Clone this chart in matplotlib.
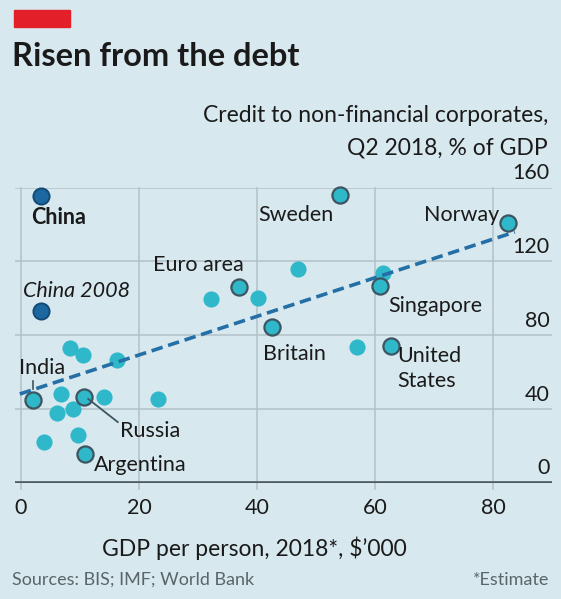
import numpy as np
import matplotlib.pyplot as plt
from matplotlib.patches import Rectangle

# ===================================================
# DATA
# ===================================================

# labelled countries: GDP per person ($'000), credit % of GDP
named = ["India", "Russia", "Argentina", "Euro area", "Britain",
         "Sweden", "Norway", "Singapore", "United States"]
named_gdp = [2.0, 10.7, 10.8, 37.0, 42.5, 54.0, 82.5, 60.8, 62.7]
named_credit = [45.0, 46.6, 15.7, 106.0, 84.5, 156.0, 140.8, 106.7, 74.2]

china_gdp = [3.4, 3.4]
china_credit = [155.4, 93.0]

# other countries (unlabelled)
other_gdp = [8.3, 10.5, 16.3, 6.8, 14.1, 23.2, 6.1, 8.8, 3.9, 9.7,
             32.2, 40.2, 46.9, 61.4, 56.9]
other_credit = [73.0, 69.3, 66.6, 48.2, 46.6, 45.5, 37.9, 40.0, 22.0, 25.8,
                99.6, 100.0, 115.9, 113.7, 73.6]

trend_x = [-0.2, 83.7]
trend_y = [48.2, 135.9]

x_ticks = [0, 20, 40, 60, 80]
y_ticks = [0, 40, 80, 120, 160]

# ===================================================
# STYLE
# ===================================================

plt.rcParams["font.family"] = ["Lato", "DejaVu Sans"]

bg = "#d7e8ef"
cyan = "#2fb7ca"
dark_blue = "#1b67a0"
edge = "#3d5560"
text_c = "#1a1a1a"
grid_c = "#b3c2c8"

fig = plt.figure(figsize=(5.61, 5.99), dpi=100)
fig.patch.set_facecolor(bg)

ax = fig.add_axes([0.0269, 1 - 483 / 599, 0.957, 295.5 / 599])
ax.set_facecolor(bg)
ax.set_xlim(-1, 90)
ax.set_ylim(0, 160)

for s in ax.spines.values():
    s.set_visible(False)
ax.set_xticks([])
ax.set_yticks([])

# grid
for yv in y_ticks[1:]:
    ax.axhline(yv, color=grid_c, lw=1.1, zorder=1)
for xv in x_ticks:
    ax.plot([xv, xv], [-3, 160], color=grid_c, lw=1.1, zorder=1,
            clip_on=False)
ax.axhline(0, color="#4c5a60", lw=2.6, zorder=2)

# tick labels
for xv in x_ticks:
    ax.text(xv, -8, str(xv), ha="center", va="top", fontsize=15.5,
            color=text_c)
for yv in y_ticks:
    ax.text(89.6, yv + 2.5, str(yv), ha="right", va="bottom",
            fontsize=15.5, color=text_c)

# ===================================================
# POINTS
# ===================================================

ax.scatter(other_gdp, other_credit, s=135, color=cyan, lw=0,
           zorder=3, clip_on=False)

ax.plot(trend_x, trend_y, color="#2470a6", lw=2.6,
        linestyle=(0, (3.2, 1.6)), zorder=4)

ax.scatter(named_gdp, named_credit, s=135, color=cyan,
           edgecolor=edge, lw=1.6, zorder=5, clip_on=False)

ax.scatter(china_gdp, china_credit, s=135, color=dark_blue,
           edgecolor="#134a75", lw=1.4, zorder=5, clip_on=False)

# ===================================================
# LABELS
# ===================================================

lab = dict(fontsize=15.5, color=text_c, zorder=6)

ax.text(1.8, 144, "China", ha="left", va="center",
        fontweight="bold", **lab)
ax.text(0.3, 104, "China 2008", ha="left", va="center",
        style="italic", **lab)
ax.text(-0.3, 62, "India", ha="left", va="center", **lab)
ax.plot([2.0, 2.0], [51, 55], color=edge, lw=1.2, zorder=6)
ax.text(16.8, 28, "Russia", ha="left", va="center", **lab)
ax.plot([11.4, 16.4], [45.5, 33], color=edge, lw=1.3, zorder=6)
ax.text(12.3, 10, "Argentina", ha="left", va="center", **lab)
ax.text(22.4, 118, "Euro area", ha="left", va="center", **lab)
ax.text(41.0, 70, "Britain", ha="left", va="center", **lab)
ax.text(40.3, 145, "Sweden", ha="left", va="center", **lab)
ax.text(81.0, 145, "Norway", ha="right", va="center", **lab)
ax.text(62.3, 96, "Singapore", ha="left", va="center", **lab)
ax.text(63.8, 69, "United", ha="left", va="center", **lab)
ax.text(63.8, 55, "States", ha="left", va="center", **lab)

# ===================================================
# TITLES
# ===================================================

fig.patches.append(Rectangle((14 / 561, 1 - 27 / 599), 56 / 561, 17 / 599,
                             transform=fig.transFigure, color="#e3202a"))

fig.text(12 / 561, 1 - 56 / 599, "Risen from the debt", ha="left",
         va="center", fontsize=23.5, fontweight="bold", color=text_c)
fig.text(548 / 561, 1 - 115 / 599, "Credit to non-financial corporates,",
         ha="right", va="center", fontsize=16.5, color=text_c)
fig.text(548 / 561, 1 - 148 / 599, "Q2 2018, % of GDP",
         ha="right", va="center", fontsize=16.5, color=text_c)

fig.text(254 / 561, 1 - 548 / 599, "GDP per person, 2018*, $\u2019000",
         ha="center", va="center", fontsize=16.5, color=text_c)
fig.text(12 / 561, 1 - 580 / 599, "Sources: BIS; IMF; World Bank",
         ha="left", va="center", fontsize=13, color="#5a6569")
fig.text(549 / 561, 1 - 580 / 599, "*Estimate",
         ha="right", va="center", fontsize=13, color="#5a6569")

fig.savefig("out.png", dpi=100, facecolor=bg)
